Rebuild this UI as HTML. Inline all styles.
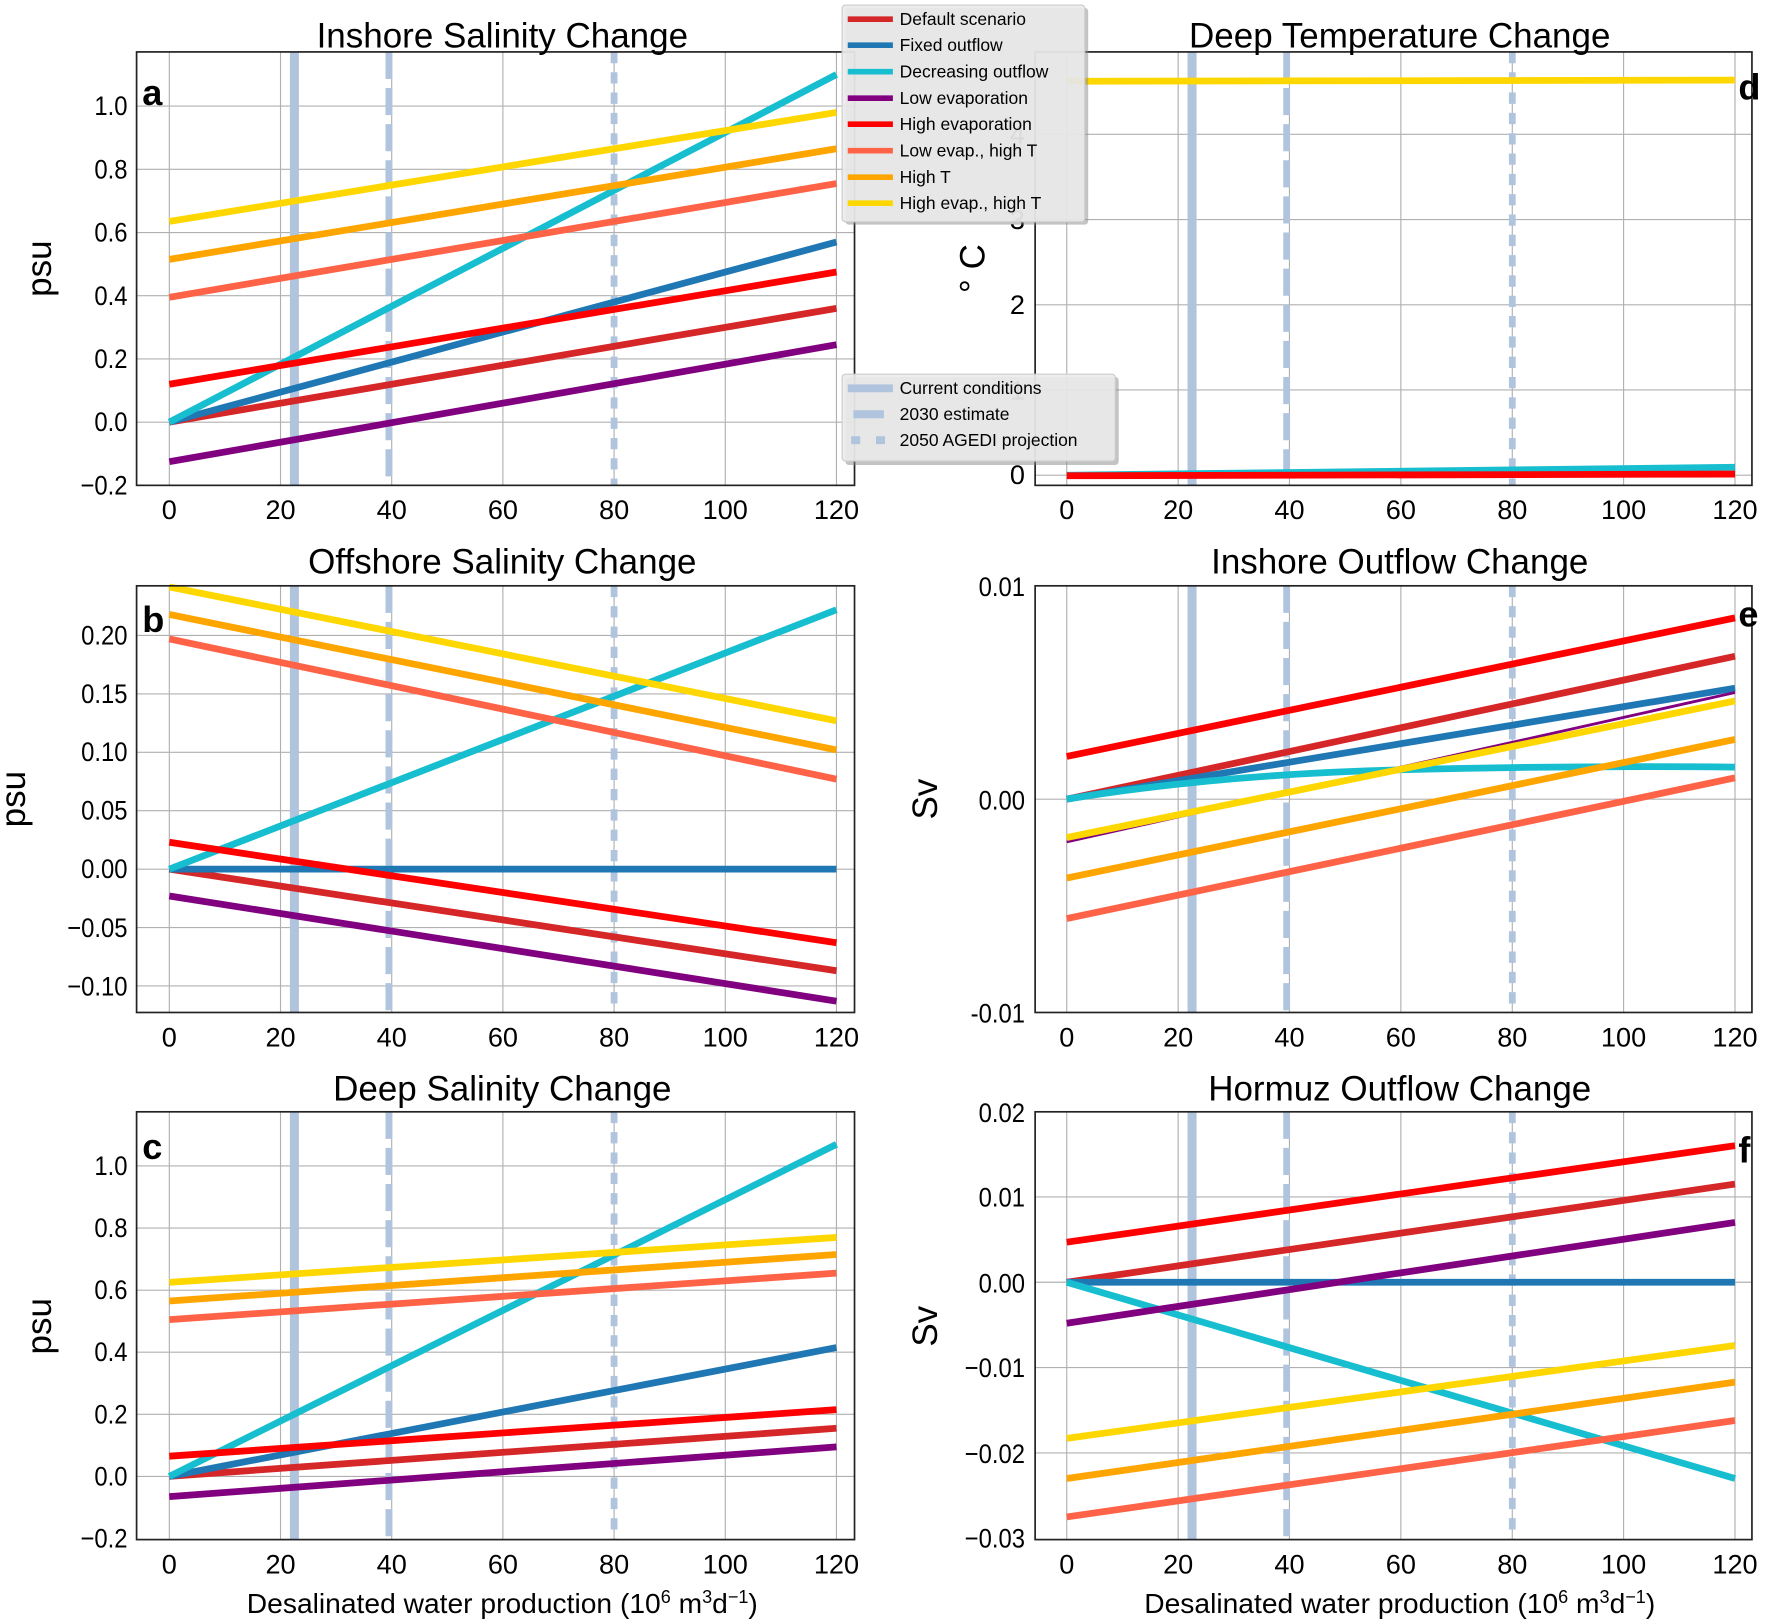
<!DOCTYPE html>
<html><head><meta charset="utf-8"><style>
html,body{margin:0;padding:0;background:#fff;}
svg{display:block;}
text{font-family:"Liberation Sans","DejaVu Sans",sans-serif;fill:#000;}
.t{font-size:24px;}
.ti{font-size:31px;}
.lg{font-size:15.5px;}
.g{stroke:#b0b0b0;stroke-width:1;}
.ax{fill:none;stroke:#222;stroke-width:1.5;}
.s{stroke-width:6;fill:none;}
.v1{stroke:#b0c4de;stroke-width:8;}
.v2{stroke:#b0c4de;stroke-width:6;stroke-dasharray:24,8;}
.v3{stroke:#b0c4de;stroke-width:6;stroke-dasharray:10,8;}
.L{font-size:32px;font-weight:bold;}
</style></head><body>
<svg width="1770" height="1622" viewBox="0 0 1568 1437" preserveAspectRatio="none" xmlns="http://www.w3.org/2000/svg">
<rect width="1568" height="1437" fill="#fff"/>

<!-- ============ PANEL A ============ -->
<g>
<g class="g">
<line x1="150" y1="46" x2="150" y2="430"/><line x1="248.5" y1="46" x2="248.5" y2="430"/><line x1="347" y1="46" x2="347" y2="430"/><line x1="445.5" y1="46" x2="445.5" y2="430"/><line x1="544" y1="46" x2="544" y2="430"/><line x1="642.5" y1="46" x2="642.5" y2="430"/><line x1="741" y1="46" x2="741" y2="430"/>
<line x1="121" y1="374" x2="757" y2="374"/><line x1="121" y1="318" x2="757" y2="318"/><line x1="121" y1="262" x2="757" y2="262"/><line x1="121" y1="206" x2="757" y2="206"/><line x1="121" y1="150" x2="757" y2="150"/><line x1="121" y1="94" x2="757" y2="94"/>
</g>
<line class="v1" x1="260.8" y1="46" x2="260.8" y2="430"/><line class="v2" x1="344.5" y1="46" x2="344.5" y2="430"/><line class="v3" x1="544" y1="46" x2="544" y2="430"/>
<line class="s" stroke="#d62728" x1="150" y1="374" x2="741" y2="273.2"/>
<line class="s" stroke="#1f77b4" x1="150" y1="374" x2="741" y2="214.4"/>
<line class="s" stroke="#17becf" x1="150" y1="374" x2="741" y2="66"/>
<line class="s" stroke="#800080" x1="150" y1="409" x2="741" y2="305.4"/>
<line class="s" stroke="#ff0000" x1="150" y1="340.4" x2="741" y2="241"/>
<line class="s" stroke="#ff6347" x1="150" y1="263.4" x2="741" y2="162.6"/>
<line class="s" stroke="#ffa500" x1="150" y1="229.8" x2="741" y2="131.8"/>
<line class="s" stroke="#ffd700" x1="150" y1="196.2" x2="741" y2="99.6"/>
<rect class="ax" x="121" y="46" width="636" height="384"/>
<g class="t" text-anchor="end" transform="translate(113,0) scale(0.88,1) translate(-113,0)"><text x="113" y="438">−0.2</text><text x="113" y="382">0.0</text><text x="113" y="326">0.2</text><text x="113" y="270">0.4</text><text x="113" y="214">0.6</text><text x="113" y="158">0.8</text><text x="113" y="102">1.0</text></g>
<g class="t" text-anchor="middle"><text x="150" y="460">0</text><text x="248.5" y="460">20</text><text x="347" y="460">40</text><text x="445.5" y="460">60</text><text x="544" y="460">80</text><text x="642.5" y="460">100</text><text x="741" y="460">120</text></g>
<text class="ti" x="445" y="42" text-anchor="middle">Inshore Salinity Change</text>
<text class="ti" transform="translate(45,238) rotate(-90)" text-anchor="middle">psu</text>
<text class="L" x="126" y="93">a</text>
</g>

<!-- ============ PANEL B ============ -->
<g>
<g class="g">
<line x1="150" y1="519" x2="150" y2="897"/><line x1="248.5" y1="519" x2="248.5" y2="897"/><line x1="347" y1="519" x2="347" y2="897"/><line x1="445.5" y1="519" x2="445.5" y2="897"/><line x1="544" y1="519" x2="544" y2="897"/><line x1="642.5" y1="519" x2="642.5" y2="897"/><line x1="741" y1="519" x2="741" y2="897"/>
<line x1="121" y1="563" x2="757" y2="563"/><line x1="121" y1="614.75" x2="757" y2="614.75"/><line x1="121" y1="666.5" x2="757" y2="666.5"/><line x1="121" y1="718.25" x2="757" y2="718.25"/><line x1="121" y1="770" x2="757" y2="770"/><line x1="121" y1="821.75" x2="757" y2="821.75"/><line x1="121" y1="873.5" x2="757" y2="873.5"/>
</g>
<line class="v1" x1="260.8" y1="519" x2="260.8" y2="897"/><line class="v2" x1="344.5" y1="519" x2="344.5" y2="897"/><line class="v3" x1="544" y1="519" x2="544" y2="897"/>
<line class="s" stroke="#d62728" x1="150" y1="770" x2="741" y2="860"/>
<line class="s" stroke="#1f77b4" x1="150" y1="770" x2="741" y2="770"/>
<line class="s" stroke="#17becf" x1="150" y1="770" x2="741" y2="540.2"/>
<line class="s" stroke="#800080" x1="150" y1="793.8" x2="741" y2="887"/>
<line class="s" stroke="#ff0000" x1="150" y1="746.2" x2="741" y2="835.2"/>
<line class="s" stroke="#ff6347" x1="150" y1="566.1" x2="741" y2="690.3"/>
<line class="s" stroke="#ffa500" x1="150" y1="544.4" x2="741" y2="664.4"/>
<line class="s" stroke="#ffd700" x1="150" y1="520" x2="741" y2="638.6"/>
<rect class="ax" x="121" y="519" width="636" height="378"/>
<g class="t" text-anchor="end" transform="translate(113,0) scale(0.88,1) translate(-113,0)"><text x="113" y="571">0.20</text><text x="113" y="623">0.15</text><text x="113" y="674">0.10</text><text x="113" y="726">0.05</text><text x="113" y="778">0.00</text><text x="113" y="830">−0.05</text><text x="113" y="882">−0.10</text></g>
<g class="t" text-anchor="middle"><text x="150" y="927">0</text><text x="248.5" y="927">20</text><text x="347" y="927">40</text><text x="445.5" y="927">60</text><text x="544" y="927">80</text><text x="642.5" y="927">100</text><text x="741" y="927">120</text></g>
<text class="ti" x="445" y="508" text-anchor="middle">Offshore Salinity Change</text>
<text class="ti" transform="translate(22,708) rotate(-90)" text-anchor="middle">psu</text>
<text class="L" x="126" y="560">b</text>
</g>

<!-- ============ PANEL C ============ -->
<g>
<g class="g">
<line x1="150" y1="985" x2="150" y2="1364"/><line x1="248.5" y1="985" x2="248.5" y2="1364"/><line x1="347" y1="985" x2="347" y2="1364"/><line x1="445.5" y1="985" x2="445.5" y2="1364"/><line x1="544" y1="985" x2="544" y2="1364"/><line x1="642.5" y1="985" x2="642.5" y2="1364"/><line x1="741" y1="985" x2="741" y2="1364"/>
<line x1="121" y1="1308" x2="757" y2="1308"/><line x1="121" y1="1253" x2="757" y2="1253"/><line x1="121" y1="1198" x2="757" y2="1198"/><line x1="121" y1="1143" x2="757" y2="1143"/><line x1="121" y1="1088" x2="757" y2="1088"/><line x1="121" y1="1033" x2="757" y2="1033"/>
</g>
<line class="v1" x1="260.8" y1="985" x2="260.8" y2="1364"/><line class="v2" x1="344.5" y1="985" x2="344.5" y2="1364"/><line class="v3" x1="544" y1="985" x2="544" y2="1364"/>
<line class="s" stroke="#d62728" x1="150" y1="1308" x2="741" y2="1265.4"/>
<line class="s" stroke="#1f77b4" x1="150" y1="1308" x2="741" y2="1193.9"/>
<line class="s" stroke="#17becf" x1="150" y1="1308" x2="741" y2="1013.8"/>
<line class="s" stroke="#800080" x1="150" y1="1325.9" x2="741" y2="1281.9"/>
<line class="s" stroke="#ff0000" x1="150" y1="1290.1" x2="741" y2="1248.9"/>
<line class="s" stroke="#ff6347" x1="150" y1="1169.1" x2="741" y2="1127.9"/>
<line class="s" stroke="#ffa500" x1="150" y1="1152.6" x2="741" y2="1111.4"/>
<line class="s" stroke="#ffd700" x1="150" y1="1136.1" x2="741" y2="1096.3"/>
<rect class="ax" x="121" y="985" width="636" height="379"/>
<g class="t" text-anchor="end" transform="translate(113,0) scale(0.88,1) translate(-113,0)"><text x="113" y="1371">−0.2</text><text x="113" y="1316">0.0</text><text x="113" y="1261">0.2</text><text x="113" y="1206">0.4</text><text x="113" y="1151">0.6</text><text x="113" y="1096">0.8</text><text x="113" y="1041">1.0</text></g>
<g class="t" text-anchor="middle"><text x="150" y="1394">0</text><text x="248.5" y="1394">20</text><text x="347" y="1394">40</text><text x="445.5" y="1394">60</text><text x="544" y="1394">80</text><text x="642.5" y="1394">100</text><text x="741" y="1394">120</text></g>
<text class="ti" x="445" y="975" text-anchor="middle">Deep Salinity Change</text>
<text class="ti" transform="translate(45,1175) rotate(-90)" text-anchor="middle">psu</text>
<text class="L" x="126" y="1027">c</text>
<text x="445" y="1429" text-anchor="middle" style="font-size:25px">Desalinated water production (10<tspan dy="-9" style="font-size:16px">6</tspan><tspan dy="9"> m</tspan><tspan dy="-9" style="font-size:16px">3</tspan><tspan dy="9">d</tspan><tspan dy="-9" style="font-size:16px">−1</tspan><tspan dy="9">)</tspan></text>
</g>

<!-- ============ PANEL D ============ -->
<g>
<g class="g">
<line x1="945" y1="46" x2="945" y2="430"/><line x1="1043.7" y1="46" x2="1043.7" y2="430"/><line x1="1142.3" y1="46" x2="1142.3" y2="430"/><line x1="1241" y1="46" x2="1241" y2="430"/><line x1="1339.7" y1="46" x2="1339.7" y2="430"/><line x1="1438.3" y1="46" x2="1438.3" y2="430"/><line x1="1537" y1="46" x2="1537" y2="430"/>
<line x1="917" y1="421" x2="1552" y2="421"/><line x1="917" y1="345.5" x2="1552" y2="345.5"/><line x1="917" y1="270" x2="1552" y2="270"/><line x1="917" y1="194.5" x2="1552" y2="194.5"/><line x1="917" y1="119" x2="1552" y2="119"/>
</g>
<line class="v1" x1="1056" y1="46" x2="1056" y2="430"/><line class="v2" x1="1139.8" y1="46" x2="1139.8" y2="430"/><line class="v3" x1="1339.7" y1="46" x2="1339.7" y2="430"/>
<line class="s" stroke="#17becf" x1="945" y1="421" x2="1537" y2="414"/>
<line class="s" stroke="#ff0000" x1="945" y1="421.5" x2="1537" y2="420"/>
<line class="s" stroke="#ffd700" x1="945" y1="72" x2="1537" y2="71"/>
<rect class="ax" x="917" y="46" width="635" height="384"/>
<g class="t" text-anchor="end"><text x="908" y="429">0</text><text x="908" y="354">1</text><text x="908" y="278">2</text><text x="908" y="203">3</text><text x="908" y="127">4</text></g>
<g class="t" text-anchor="middle"><text x="945" y="460">0</text><text x="1043.7" y="460">20</text><text x="1142.3" y="460">40</text><text x="1241" y="460">60</text><text x="1339.7" y="460">80</text><text x="1438.3" y="460">100</text><text x="1537" y="460">120</text></g>
<text class="ti" x="1240" y="42" text-anchor="middle">Deep Temperature Change</text>
<text class="ti" transform="translate(872,238) rotate(-90)" text-anchor="middle">° C</text>
<text class="L" x="1540" y="88">d</text>
</g>

<!-- ============ PANEL E ============ -->
<g>
<g class="g">
<line x1="945" y1="519" x2="945" y2="897"/><line x1="1043.7" y1="519" x2="1043.7" y2="897"/><line x1="1142.3" y1="519" x2="1142.3" y2="897"/><line x1="1241" y1="519" x2="1241" y2="897"/><line x1="1339.7" y1="519" x2="1339.7" y2="897"/><line x1="1438.3" y1="519" x2="1438.3" y2="897"/><line x1="1537" y1="519" x2="1537" y2="897"/>
<line x1="917" y1="708" x2="1552" y2="708"/>
</g>
<line class="v1" x1="1056" y1="519" x2="1056" y2="897"/><line class="v2" x1="1139.8" y1="519" x2="1139.8" y2="897"/><line class="v3" x1="1339.7" y1="519" x2="1339.7" y2="897"/>
<line class="s" stroke="#d62728" x1="945" y1="708" x2="1537" y2="581.4"/>
<line class="s" stroke="#1f77b4" x1="945" y1="708" x2="1537" y2="609.7"/>
<path class="s" stroke="#17becf" d="M945,708 Q1080,686 1241,682 T1537,679.6"/>
<line stroke="#800080" stroke-width="2.5" x1="945" y1="745.8" x2="1537" y2="613.5"/>
<line class="s" stroke="#ff0000" x1="945" y1="670.2" x2="1537" y2="547.4"/>
<line class="s" stroke="#ff6347" x1="945" y1="813.8" x2="1537" y2="689.1"/>
<line class="s" stroke="#ffa500" x1="945" y1="777.9" x2="1537" y2="655.1"/>
<line class="s" stroke="#ffd700" x1="945" y1="742" x2="1537" y2="621"/>
<rect class="ax" x="917" y="519" width="635" height="378"/>
<g class="t" text-anchor="end" transform="translate(908,0) scale(0.88,1) translate(-908,0)"><text x="908" y="528">0.01</text><text x="908" y="717">0.00</text><text x="908" y="906">-0.01</text></g>
<g class="t" text-anchor="middle"><text x="945" y="927">0</text><text x="1043.7" y="927">20</text><text x="1142.3" y="927">40</text><text x="1241" y="927">60</text><text x="1339.7" y="927">80</text><text x="1438.3" y="927">100</text><text x="1537" y="927">120</text></g>
<text class="ti" x="1240" y="508" text-anchor="middle">Inshore Outflow Change</text>
<text class="ti" transform="translate(830,708) rotate(-90)" text-anchor="middle">Sv</text>
<text class="L" x="1540" y="555">e</text>
</g>

<!-- ============ PANEL F ============ -->
<g>
<g class="g">
<line x1="945" y1="985" x2="945" y2="1364"/><line x1="1043.7" y1="985" x2="1043.7" y2="1364"/><line x1="1142.3" y1="985" x2="1142.3" y2="1364"/><line x1="1241" y1="985" x2="1241" y2="1364"/><line x1="1339.7" y1="985" x2="1339.7" y2="1364"/><line x1="1438.3" y1="985" x2="1438.3" y2="1364"/><line x1="1537" y1="985" x2="1537" y2="1364"/>
<line x1="917" y1="1060.4" x2="1552" y2="1060.4"/><line x1="917" y1="1136" x2="1552" y2="1136"/><line x1="917" y1="1211.6" x2="1552" y2="1211.6"/><line x1="917" y1="1287.2" x2="1552" y2="1287.2"/>
</g>
<line class="v1" x1="1056" y1="985" x2="1056" y2="1364"/><line class="v2" x1="1139.8" y1="985" x2="1139.8" y2="1364"/><line class="v3" x1="1339.7" y1="985" x2="1339.7" y2="1364"/>
<line class="s" stroke="#d62728" x1="945" y1="1136" x2="1537" y2="1049"/>
<line class="s" stroke="#1f77b4" x1="945" y1="1136" x2="1537" y2="1136"/>
<line class="s" stroke="#17becf" x1="945" y1="1136" x2="1537" y2="1309.9"/>
<line class="s" stroke="#800080" x1="945" y1="1172.3" x2="1537" y2="1083"/>
<line class="s" stroke="#ff0000" x1="945" y1="1100.5" x2="1537" y2="1015"/>
<line class="s" stroke="#ff6347" x1="945" y1="1343.9" x2="1537" y2="1258.5"/>
<line class="s" stroke="#ffa500" x1="945" y1="1309.9" x2="1537" y2="1224.5"/>
<line class="s" stroke="#ffd700" x1="945" y1="1274.3" x2="1537" y2="1192"/>
<rect class="ax" x="917" y="985" width="635" height="379"/>
<g class="t" text-anchor="end" transform="translate(908,0) scale(0.88,1) translate(-908,0)"><text x="908" y="994">0.02</text><text x="908" y="1069">0.01</text><text x="908" y="1145">0.00</text><text x="908" y="1220">−0.01</text><text x="908" y="1296">−0.02</text><text x="908" y="1371">−0.03</text></g>
<g class="t" text-anchor="middle"><text x="945" y="1394">0</text><text x="1043.7" y="1394">20</text><text x="1142.3" y="1394">40</text><text x="1241" y="1394">60</text><text x="1339.7" y="1394">80</text><text x="1438.3" y="1394">100</text><text x="1537" y="1394">120</text></g>
<text class="ti" x="1240" y="975" text-anchor="middle">Hormuz Outflow Change</text>
<text class="ti" transform="translate(830,1175) rotate(-90)" text-anchor="middle">Sv</text>
<text class="L" x="1540" y="1030">f</text>
<text x="1240" y="1429" text-anchor="middle" style="font-size:25px">Desalinated water production (10<tspan dy="-9" style="font-size:16px">6</tspan><tspan dy="9"> m</tspan><tspan dy="-9" style="font-size:16px">3</tspan><tspan dy="9">d</tspan><tspan dy="-9" style="font-size:16px">−1</tspan><tspan dy="9">)</tspan></text>
</g>

<!-- ============ LEGENDS ============ -->
<g>
<rect x="749" y="7" width="215" height="192" rx="3" fill="#888" opacity="0.5"/>
<rect x="746" y="4.5" width="215" height="192" rx="3" fill="#ebebeb" fill-opacity="0.9" stroke="#ccc"/>
<g stroke-width="5">
<line x1="751" y1="17" x2="791" y2="17" stroke="#d62728"/>
<line x1="751" y1="40" x2="791" y2="40" stroke="#1f77b4"/>
<line x1="751" y1="63.5" x2="791" y2="63.5" stroke="#17becf"/>
<line x1="751" y1="87" x2="791" y2="87" stroke="#800080"/>
<line x1="751" y1="110" x2="791" y2="110" stroke="#ff0000"/>
<line x1="751" y1="133.5" x2="791" y2="133.5" stroke="#ff6347"/>
<line x1="751" y1="157" x2="791" y2="157" stroke="#ffa500"/>
<line x1="751" y1="180" x2="791" y2="180" stroke="#ffd700"/>
</g>
<g class="lg">
<text x="797" y="22">Default scenario</text>
<text x="797" y="45">Fixed outflow</text>
<text x="797" y="68.5">Decreasing outflow</text>
<text x="797" y="92">Low evaporation</text>
<text x="797" y="115">High evaporation</text>
<text x="797" y="138.5">Low evap., high T</text>
<text x="797" y="162">High T</text>
<text x="797" y="185">High evap., high T</text>
</g>
<rect x="749" y="334" width="242" height="78" rx="3" fill="#888" opacity="0.5"/>
<rect x="746" y="331.5" width="242" height="77" rx="3" fill="#ebebeb" fill-opacity="0.9" stroke="#ccc"/>
<line x1="751" y1="344" x2="791" y2="344" stroke="#b0c4de" stroke-width="7"/>
<line x1="756" y1="367" x2="783" y2="367" stroke="#b0c4de" stroke-width="7"/>
<line x1="754" y1="390" x2="791" y2="390" stroke="#b0c4de" stroke-width="7" stroke-dasharray="8,14"/>
<g class="lg">
<text x="797" y="349">Current conditions</text>
<text x="797" y="372">2030 estimate</text>
<text x="797" y="395">2050 AGEDI projection</text>
</g>
</g>
</svg>
</body></html>
